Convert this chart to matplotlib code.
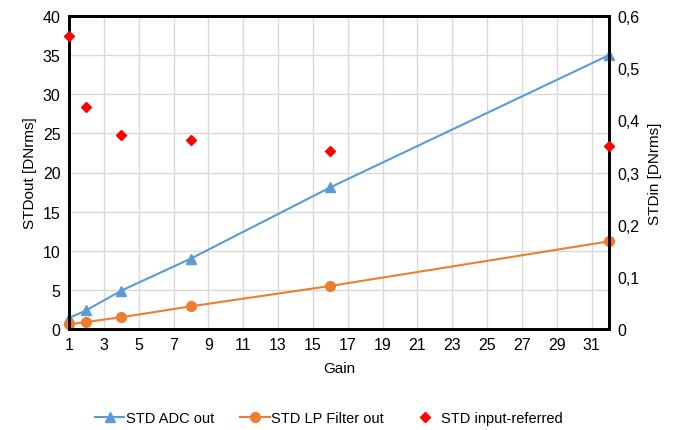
import matplotlib.pyplot as plt
from matplotlib.ticker import FuncFormatter

plt.rcParams['font.family'] = ['Liberation Sans', 'DejaVu Sans']
plt.rcParams['font.size'] = 10

# data
gain = [1, 2, 4, 8, 16, 32]
std_adc = [1.4, 2.4, 4.9, 9.0, 18.1, 35.0]
std_lp = [0.6, 0.9, 1.5, 2.9, 5.5, 11.2]
std_in = [0.561, 0.425, 0.372, 0.363, 0.341, 0.351]

blue = '#5B9BD5'
orange = '#ED7D31'
red = '#FF0000'

fig = plt.figure(figsize=(6.85, 4.31), dpi=100)
ax = fig.add_axes([69 / 685, 1 - 330 / 431, 540 / 685, 313 / 431])
ax2 = ax.twinx()

l1, = ax.plot(gain, std_adc, color=blue, lw=1.5, marker='^', ms=7, label='STD ADC out', clip_on=False, zorder=3)
l2, = ax.plot(gain, std_lp, color=orange, lw=1.5, marker='o', ms=7, label='STD LP Filter out', clip_on=False, zorder=3)
l3, = ax2.plot(gain, std_in, ls='none', color=red, marker='D', ms=5.5, label='STD input-referred', clip_on=False, zorder=3)

ax.set_xlim(1, 32)
ax.set_ylim(0, 40)
ax2.set_ylim(0, 0.6)
ax.set_xticks(range(1, 32, 2))
ax.set_yticks(range(0, 41, 5))
ax2.set_yticks([0, 0.1, 0.2, 0.3, 0.4, 0.5, 0.6])
ax2.yaxis.set_major_formatter(FuncFormatter(lambda v, p: '0' if v == 0 else f'{v:.1f}'.replace('.', ',')))

ax.grid(True, color='#D9D9D9', lw=1)
ax.set_axisbelow(True)
for a in (ax, ax2):
    for s in a.spines.values():
        s.set_linewidth(2)
        s.set_color('black')
    a.tick_params(length=0, labelsize=11.5, pad=6)

ax.set_xlabel('Gain', fontsize=11, labelpad=6)
ax.set_ylabel('STDout [DNrms]', fontsize=11, labelpad=4)
ax2.set_ylabel('STDin [DNrms]', fontsize=11, labelpad=6)

fig.legend(handles=[l1, l2, l3], loc='center', bbox_to_anchor=(0.48, 1 - 419 / 431),
           ncol=3, frameon=False, fontsize=10.5, handlelength=2.0, columnspacing=1.8, handletextpad=0.1)

fig.savefig('out.png', dpi=100)
